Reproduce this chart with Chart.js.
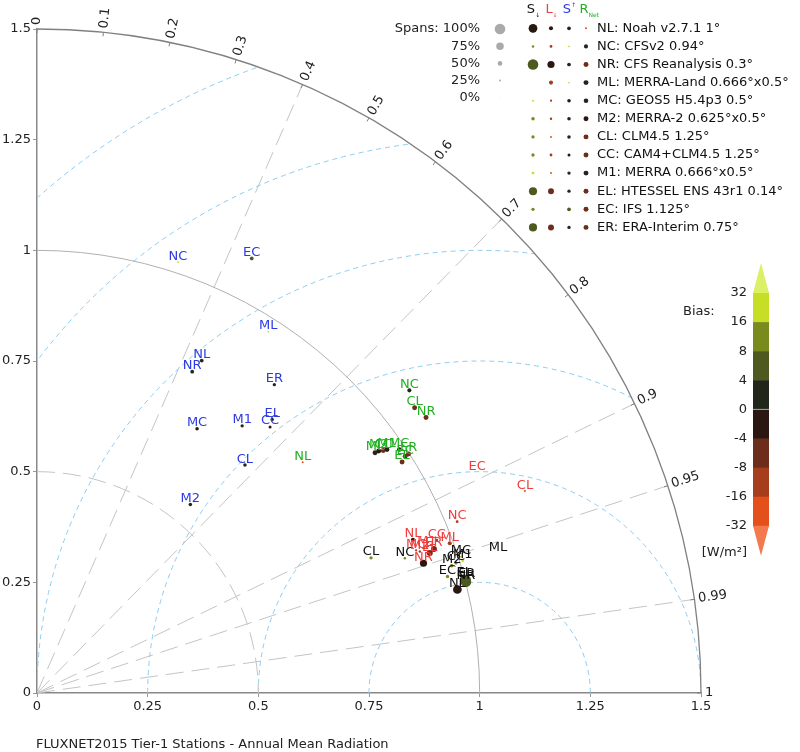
<!DOCTYPE html>
<html>
<head>
<meta charset="utf-8">
<script src="https://cdn.jsdelivr.net/npm/chart.js@4.4.1/dist/chart.umd.min.js"></script>
<style>
  html, body { margin: 0; padding: 0; background: #fff; }
</style>
</head>
<body>
<canvas id="taylor" width="800" height="752"></canvas>
<script>
// Taylor diagram - FLUXNET2015 annual mean radiation
const FONT = '"DejaVu Sans", sans-serif';

const models = ['NL', 'NC', 'NR', 'ML', 'MC', 'M2', 'CL', 'CC', 'M1', 'EL', 'EC', 'ER'];
const modelNames = ['Noah v2.7.1 1°', 'CFSv2 0.94°', 'CFS Reanalysis 0.3°', 'MERRA-Land 0.666°x0.5°',
    'GEOS5 H5.4p3 0.5°', 'MERRA-2 0.625°x0.5°', 'CLM4.5 1.25°', 'CAM4+CLM4.5 1.25°',
    'MERRA 0.666°x0.5°', 'HTESSEL ENS 43r1 0.14°', 'IFS 1.125°', 'ERA-Interim 0.75°'];

// normalised std dev, correlation, bias (W/m2) and span of each variable
const sdSWdown   = [0.978, 0.885, 1.001, 1.088, 1.006, 0.980, 0.814, 0.991, 1.007, 0.999, 0.964, 1.004];
const corrSWdown = [0.971, 0.939, 0.968, 0.957, 0.952, 0.956, 0.927, 0.955, 0.955, 0.966, 0.962, 0.967];
const biasSWdown = [-2, 12, 6, 12, 24, 12, 12, 12, 24, 6, 12, 6];
const spanSWdown = [0.85, 0.3, 1.0, 0, 0.25, 0.4, 0.38, 0.38, 0.33, 0.8, 0.38, 0.8];

const sdLWdown   = [0.917, 1.025, 0.921, 0.992, 0.915, 0.922, 1.193, 0.967, 0.940, 0.942, 1.112, 0.954];
const corrLWdown = [0.926, 0.926, 0.948, 0.940, 0.936, 0.938, 0.924, 0.934, 0.937, 0.942, 0.894, 0.940];
const biasLWdown = [-2, -12, -2, -12, -12, -12, -24, -12, -24, -6, -6, -6];
const spanLWdown = [0.45, 0.33, 0.72, 0.45, 0.27, 0.29, 0.25, 0.33, 0.25, 0.62, 0, 0.62];

const sdSWup   = [0.838, 1.024, 0.806, 0.969, 0.698, 0.549, 0.697, 0.799, 0.761, 0.815, 1.095, 0.879];
const corrSWup = [0.444, 0.311, 0.435, 0.539, 0.518, 0.631, 0.674, 0.659, 0.609, 0.652, 0.443, 0.610];
const biasSWup = [2, 24, 2, 24, -2, 2, 2, -2, 2, 2, 6, 2];
const spanSWup = [0.42, 0.22, 0.42, 0.22, 0.4, 0.4, 0.4, 0.35, 0.38, 0.38, 0.42, 0.38];

const sdRnet   = [0.795, 1.084, 1.077, 0.937, 0.986, 0.946, 1.069, 0.955, 0.963, 0.976, 0.989, 0.998];
const corrRnet = [0.755, 0.776, 0.816, 0.815, 0.830, 0.816, 0.798, 0.819, 0.821, 0.845, 0.841, 0.841];
const biasRnet = [-24, 2, -6, 2, 2, -2, -6, -6, 2, -6, -6, -6];
const spanRnet = [0.25, 0.45, 0.53, 0.53, 0.5, 0.53, 0.53, 0.53, 0.53, 0.53, 0.53, 0.53];

const varLetters = ['S', 'L', 'S', 'R'];
const varMarks = ['↓', '↓', '↑', 'Net'];
const varColors = ['#111111', '#f03e3e', '#2b3be0', '#22b022'];

const rmsLevels = [0.25, 0.5, 0.75, 1, 1.25, 1.5];
const corrTicks = [0, 0.1, 0.2, 0.3, 0.4, 0.5, 0.6, 0.7, 0.8, 0.9, 0.95, 0.99, 1];
const corrRays = [0.4, 0.7, 0.9, 0.95, 0.99];
const spanLevels = [1, 0.75, 0.5, 0.25, 0];
const biasEdges = [-32, -16, -8, -4, 0, 4, 8, 16, 32];
const biasColors = ['#f27a4e', '#e4501a', '#a63d1c', '#6c2e1b', '#2b1712',
    '#21261a', '#4c5a20', '#7a8b1e', '#c6de26', '#dcf066'];

const series = [
    { sd: sdSWdown, corr: corrSWdown, bias: biasSWdown, span: spanSWdown },
    { sd: sdLWdown, corr: corrLWdown, bias: biasLWdown, span: spanLWdown },
    { sd: sdSWup, corr: corrSWup, bias: biasSWup, span: spanSWup },
    { sd: sdRnet, corr: corrRnet, bias: biasRnet, span: spanRnet }
];

function biasColor(b) {
    let i = 0;
    while (i < biasEdges.length && b >= biasEdges[i]) i++;
    return biasColors[i];
}
function spanRadius(s) {
    return s <= 0 ? 0 : 5.3 * Math.pow(s, 1.2);
}

const datasets = series.map((s, k) => ({
    label: varLetters[k] + varMarks[k],
    data: s.sd.map((sd, i) => ({ x: sd * s.corr[i], y: sd * Math.sqrt(1 - s.corr[i] * s.corr[i]) })),
    pointBackgroundColor: s.bias.map(biasColor),
    pointRadius: s.span.map(spanRadius),
    pointBorderWidth: 0,
    pointHoverRadius: s.span.map(spanRadius),
    showLine: false,
    clip: false
}));

// grid of the diagram: rms circles, std arcs, correlation rays and ticks
const taylorGrid = {
    id: 'taylorGrid',
    beforeDatasetsDraw(chart) {
        const { ctx, scales: { x, y } } = chart;
        const ox = x.getPixelForValue(0), oy = y.getPixelForValue(0);
        const k = x.getPixelForValue(1) - ox;
        const R = 1.5 * k;
        ctx.save();
        ctx.beginPath();
        ctx.moveTo(ox, oy);
        ctx.arc(ox, oy, R, -Math.PI / 2, 0);
        ctx.closePath();
        ctx.clip();

        // rms circles
        ctx.strokeStyle = '#8cccf2';
        ctx.lineWidth = 1;
        ctx.setLineDash([5, 4]);
        rmsLevels.forEach(r => {
            ctx.beginPath();
            ctx.arc(x.getPixelForValue(1), oy, r * k, Math.PI, 2 * Math.PI);
            ctx.stroke();
        });

        // correlation rays and std 0.5 arc
        ctx.strokeStyle = '#c4c4c4';
        ctx.setLineDash([18, 8]);
        corrRays.forEach(c => {
            const t = Math.acos(c);
            ctx.beginPath();
            ctx.moveTo(ox, oy);
            ctx.lineTo(ox + R * Math.cos(t), oy - R * Math.sin(t));
            ctx.stroke();
        });
        ctx.beginPath();
        ctx.arc(ox, oy, 0.5 * k, -Math.PI / 2, 0);
        ctx.stroke();

        // std 1 reference arc
        ctx.setLineDash([]);
        ctx.strokeStyle = '#b0b0b0';
        ctx.beginPath();
        ctx.arc(ox, oy, k, -Math.PI / 2, 0);
        ctx.stroke();
        ctx.restore();

        // outer arc, ticks and labels
        ctx.save();
        ctx.strokeStyle = '#808080';
        ctx.lineWidth = 1.3;
        ctx.beginPath();
        ctx.arc(ox, oy, R, -Math.PI / 2, 0);
        ctx.stroke();
        ctx.lineWidth = 1;
        ctx.font = '13px ' + FONT;
        ctx.fillStyle = '#222';
        ctx.textAlign = 'left';
        ctx.textBaseline = 'middle';
        corrTicks.forEach(c => {
            const t = Math.acos(c);
            const cs = Math.cos(t), sn = Math.sin(t);
            ctx.beginPath();
            ctx.moveTo(ox + R * cs, oy - R * sn);
            ctx.lineTo(ox + (R - 4) * cs, oy - (R - 4) * sn);
            ctx.stroke();
            ctx.save();
            ctx.translate(ox + (R + 4) * cs, oy - (R + 4) * sn);
            ctx.rotate(-t);
            ctx.fillText(String(c), 0, 0);
            ctx.restore();
        });
        ctx.restore();
    },
    afterDatasetsDraw(chart) {
        const { ctx } = chart;
        ctx.save();
        ctx.font = '13px ' + FONT;
        ctx.textAlign = 'center';
        ctx.textBaseline = 'alphabetic';
        chart.data.datasets.forEach((ds, k) => {
            const meta = chart.getDatasetMeta(k);
            ctx.fillStyle = varColors[k];
            meta.data.forEach((el, i) => {
                ctx.fillText(models[i], el.x, el.y - 2.5);
            });
        });
        ctx.restore();
    }
};

// model legend, span legend, bias colorbar and title
const sideLegend = {
    id: 'sideLegend',
    afterDraw(chart) {
        const { ctx } = chart;
        ctx.save();
        ctx.font = '13px ' + FONT;
        ctx.textBaseline = 'middle';

        // header letters
        const colX = [533, 551, 569, 586];
        varLetters.forEach((l, k) => {
            ctx.fillStyle = varColors[k];
            ctx.textAlign = 'left';
            ctx.font = '13px ' + FONT;
            const w = ctx.measureText(l).width;
            const lx = colX[k] - w / 2 - 2;
            ctx.fillText(l, lx, 10);
            ctx.font = '6px ' + FONT;
            ctx.fillText(varMarks[k], lx + w, k === 2 ? 5 : 15);
        });

        // spans
        ctx.font = '13px ' + FONT;
        ctx.textAlign = 'right';
        ctx.fillStyle = '#222';
        spanLevels.forEach((s, i) => {
            const yy = 29 + i * 17.2;
            ctx.fillText((i === 0 ? 'Spans: ' : '') + Math.round(s * 100) + '%', 480, yy);
            ctx.fillStyle = s > 0 ? '#aaaaaa' : '#eeeeee';
            ctx.beginPath();
            ctx.arc(500, yy, Math.max(spanRadius(s), 0.6), 0, 2 * Math.PI);
            ctx.fill();
            ctx.fillStyle = '#222';
        });

        // model rows
        ctx.textAlign = 'left';
        models.forEach((m, i) => {
            const yy = 28.3 + i * 18.1;
            series.forEach((s, k) => {
                const r = spanRadius(s.span[i]);
                if (r > 0) {
                    ctx.fillStyle = biasColor(s.bias[i]);
                    ctx.beginPath();
                    ctx.arc(colX[k], yy, r, 0, 2 * Math.PI);
                    ctx.fill();
                }
            });
            ctx.fillStyle = '#111';
            ctx.fillText(m + ': ' + modelNames[i], 597, yy);
        });

        // colorbar
        const cbX = 753, cbW = 16, top = 293, step = 29.1;
        const n = biasEdges.length;
        for (let j = 0; j < n - 1; j++) {
            ctx.fillStyle = biasColors[n - 1 - j];
            ctx.fillRect(cbX, top + j * step, cbW, step + 0.5);
        }
        const bottom = top + (n - 1) * step;
        ctx.fillStyle = biasColors[n];
        ctx.beginPath();
        ctx.moveTo(cbX, top); ctx.lineTo(cbX + cbW / 2, top - 30); ctx.lineTo(cbX + cbW, top);
        ctx.closePath(); ctx.fill();
        ctx.fillStyle = biasColors[0];
        ctx.beginPath();
        ctx.moveTo(cbX, bottom); ctx.lineTo(cbX + cbW / 2, bottom + 30); ctx.lineTo(cbX + cbW, bottom);
        ctx.closePath(); ctx.fill();
        ctx.strokeStyle = 'rgba(255,255,255,0.6)';
        ctx.beginPath();
        ctx.moveTo(cbX, top + 4 * step); ctx.lineTo(cbX + cbW, top + 4 * step);
        ctx.stroke();

        ctx.fillStyle = '#222';
        ctx.textAlign = 'right';
        for (let j = 0; j < n; j++) {
            ctx.fillText(String(biasEdges[n - 1 - j]), 747, top + j * step);
        }
        ctx.textAlign = 'left';
        ctx.fillText('Bias:', 683, 312);
        ctx.textAlign = 'right';
        ctx.fillText('[W/m²]', 747, 553);

        // title
        ctx.textAlign = 'left';
        ctx.fillText('FLUXNET2015 Tier-1 Stations - Annual Mean Radiation', 36, 745);
        ctx.restore();
    }
};

const axisStyle = (fit) => ({
    type: 'linear',
    min: 0,
    max: 1.5,
    afterFit: fit,
    ticks: {
        stepSize: 0.25, color: '#222', font: { size: 13, family: FONT }, padding: 2,
        maxRotation: 0, autoSkip: false,
        callback: v => String(Math.round(v * 100) / 100)
    },
    grid: { drawOnChartArea: false, color: '#999', tickLength: 4 },
    border: { color: '#888', width: 1.5 }
});

new Chart(document.getElementById('taylor').getContext('2d'), {
    type: 'scatter',
    data: { datasets },
    options: {
        responsive: false,
        animation: false,
        layout: { padding: { top: 29, right: 99, bottom: 35, left: 0 } },
        plugins: { legend: { display: false }, tooltip: { enabled: false } },
        scales: {
            x: axisStyle(s => { s.height = 24; }),
            y: axisStyle(s => { s.width = 37; })
        }
    },
    plugins: [taylorGrid, sideLegend]
});
</script>
</body>
</html>
